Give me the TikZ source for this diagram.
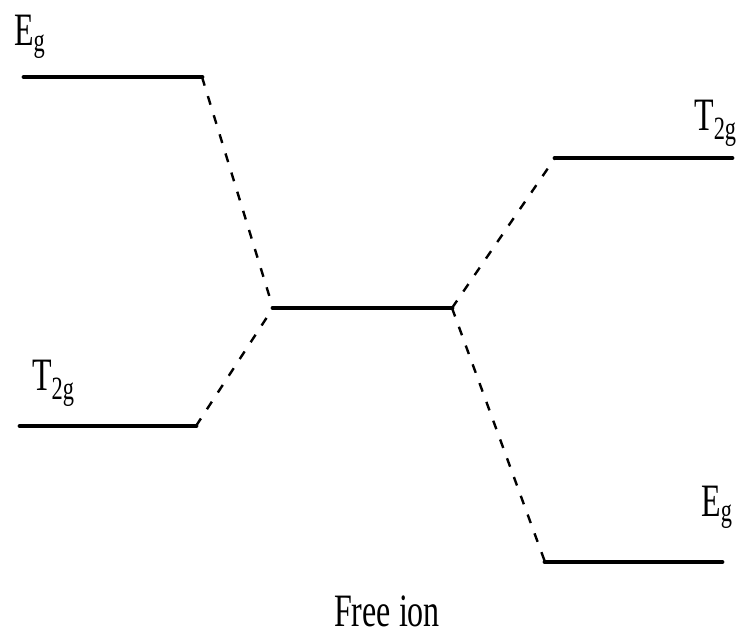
\documentclass[tikz,border=0pt]{standalone}
\usepackage{fontspec}
\setmainfont{Liberation Serif}
\begin{document}
\begin{tikzpicture}[x=1pt,y=-1pt,
  level/.style={line width=4.8pt,line cap=round},
  link/.style={line width=2.4pt,dash pattern=on 9pt off 11pt},
  lbl/.style={inner sep=0pt,anchor=base west,font=\fontsize{32}{36}\selectfont}]
\newcommand{\tallt}[1]{\scalebox{1}[1.45]{#1}}
\useasboundingbox (0,0) rectangle (739,634);
% energy level end points
\coordinate (eL1) at (24,77);   \coordinate (eL2) at (202,77);
\coordinate (tL1) at (20,426);  \coordinate (tL2) at (196,426);
\coordinate (c1)  at (273,308); \coordinate (c2)  at (452,308);
\coordinate (tR1) at (555,158); \coordinate (tR2) at (732,158);
\coordinate (eR1) at (545,562); \coordinate (eR2) at (722,562);
% levels
\draw[level] (eL1) -- (eL2);
\draw[level] (tL1) -- (tL2);
\draw[level] (c1) -- (c2);
\draw[level] (tR1) -- (tR2);
\draw[level] (eR1) -- (eR2);
% correlation lines
\draw[link] (eL2) -- (c1);
\draw[link] (tL2) -- (c1);
\draw[link] (c2) -- (tR1);
\draw[link] (c2) -- (eR1);
% labels
\node[lbl] (lEg) at (14,46) {\tallt{E\textsubscript{g}}};
\node[lbl] (lT)  at (32,390) {\tallt{T\textsubscript{2g}}};
\node[lbl] (rT)  at (694,130) {\tallt{T\textsubscript{2g}}};
\node[lbl] (rEg) at (701,516) {\tallt{E\textsubscript{g}}};
\node[lbl] (free) at (334,626) {\tallt{Free ion}};
\end{tikzpicture}
\end{document}
